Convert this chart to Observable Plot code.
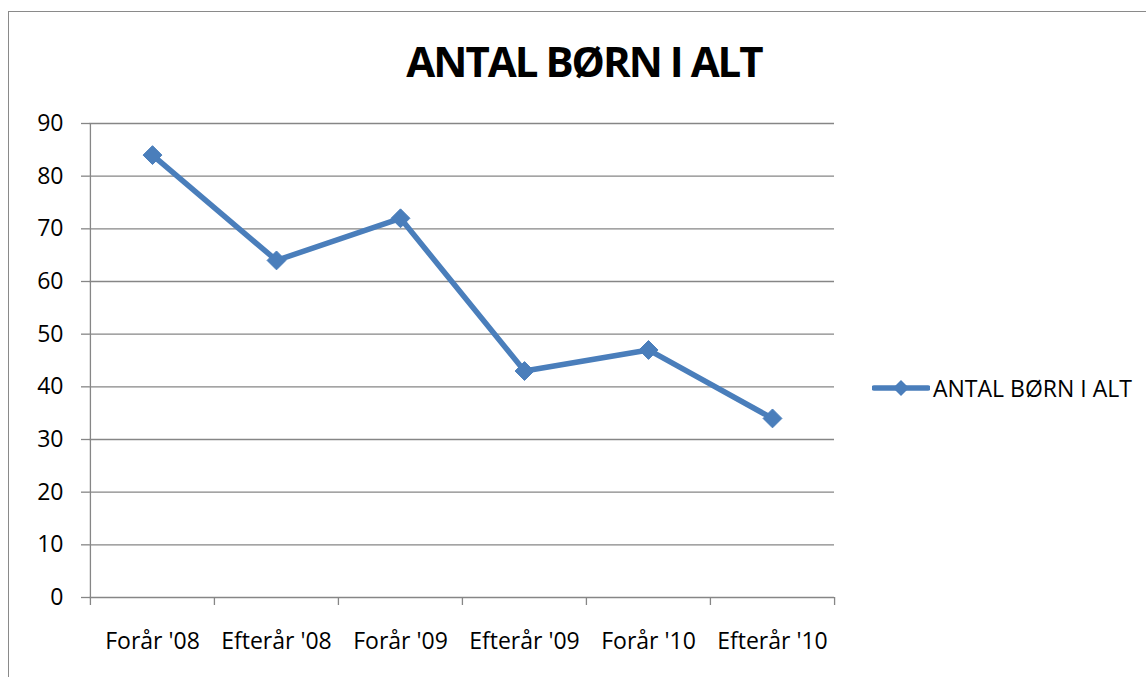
<!DOCTYPE html>
<html>
<head>
<meta charset="utf-8">
<script src="https://cdn.jsdelivr.net/npm/d3@7"></script>
<script src="https://cdn.jsdelivr.net/npm/@observablehq/plot@0.6"></script>
<style>
  body { margin: 0; background: #fff; font-family: "Open Sans", sans-serif; }
  #wrap { position: relative; width: 1146px; height: 677px; overflow: hidden; background: #fff; }
  #frame { position: absolute; left: 8px; top: 11px; width: 1300px; height: 900px; border: 1.5px solid #8a8a8a; box-sizing: border-box; }
  #chart { position: absolute; left: 0; top: 0; }
  #title { position: absolute; left: 384px; width: 400px; top: 40px; text-align: center; font-weight: 700; font-size: 42px; line-height: 42px; letter-spacing: -2px; color: #000; white-space: nowrap; }
  #legend { position: absolute; left: 872px; top: 372px; display: flex; align-items: center; font-size: 23px; color: #000; white-space: nowrap; letter-spacing: 0px; }
  #legend svg { margin-right: 3px; }
</style>
</head>
<body>
<div id="wrap">
  <div id="frame"></div>
  <div id="chart"></div>
  <div id="title"></div>
  <div id="legend"></div>
</div>
<script>
const categories = ["Forår '08", "Efterår '08", "Forår '09", "Efterår '09", "Forår '10", "Efterår '10"];
const values = [84, 64, 72, 43, 47, 34];
const yTicks = [0, 10, 20, 30, 40, 50, 60, 70, 80, 90];
const seriesName = "ANTAL BØRN I ALT";
const chartTitle = "ANTAL BØRN I ALT";

const blue = "#4a7ebb";
const gray = "#868686";

const data = categories.map((c, i) => ({period: c, value: values[i]}));

const W = 1146, H = 677;
const mL = 89, mR = 312, mT = 123, mB = 80;
const step = (W - mL - mR) / categories.length;

const plot = Plot.plot({
  width: W,
  height: H,
  marginLeft: mL,
  marginRight: mR,
  marginTop: mT,
  marginBottom: mB,
  style: {fontFamily: "'Open Sans', sans-serif", background: "transparent", overflow: "visible"},
  x: {type: "point", domain: categories, padding: 0.5, axis: null},
  y: {domain: [0, 90], axis: null},
  marks: [
    Plot.ruleY(yTicks, {stroke: gray, strokeWidth: 1.3}),
    Plot.ruleX([categories[0]], {y1: 0, y2: 90, dx: -step / 2, stroke: gray, strokeWidth: 1.3}),
    Plot.axisY({ticks: yTicks, tickSize: 8, tickPadding: 18, fontSize: 23, stroke: gray, strokeWidth: 1.3, label: null, fill: "#000"}),
    Plot.axisX({ticks: categories, tickSize: 8, tickFormat: () => "", dx: -step / 2, stroke: gray, strokeWidth: 1.3, label: null}),
    Plot.axisX({ticks: [categories[categories.length - 1]], tickSize: 8, tickFormat: () => "", dx: step / 2, stroke: gray, strokeWidth: 1.3, label: null}),
    Plot.axisX({ticks: categories, tickSize: 0, tickPadding: 35, fontSize: 23, label: null, fill: "#000"}),
    Plot.line(data, {x: "period", y: "value", stroke: blue, strokeWidth: 5.5, strokeLinejoin: "round"}),
    Plot.dot(data, {x: "period", y: "value", symbol: "diamond2", r: 8.5, fill: blue, stroke: blue, strokeWidth: 1})
  ]
});
document.getElementById("chart").appendChild(plot);
document.getElementById("title").textContent = chartTitle;

const leg = document.getElementById("legend");
leg.innerHTML = `<svg width="58" height="30" viewBox="0 0 58 30">
  <line x1="2" y1="15" x2="56" y2="15" stroke="${blue}" stroke-width="5.5" stroke-linecap="round"/>
  <path d="M29 7 L37 15 L29 23 L21 15 Z" fill="${blue}"/>
</svg><span></span>`;
leg.querySelector("span").textContent = seriesName;
</script>
</body>
</html>
